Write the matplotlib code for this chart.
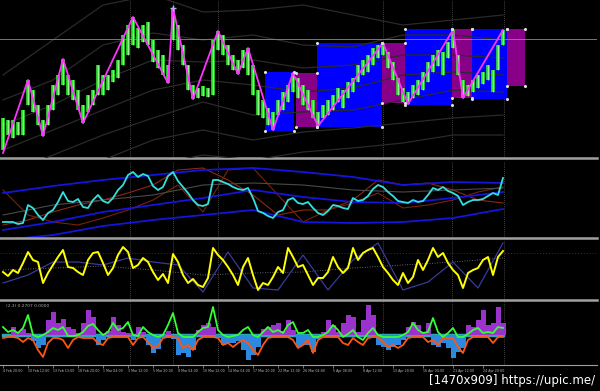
import matplotlib
matplotlib.use("Agg")
import matplotlib.pyplot as plt
from matplotlib.patches import Rectangle

# one sample per bar
bars = list(range(101))

# --- main window: price bars (high / low) ---
price_high = [42, 40, 40, 38, 50, 80, 70, 55, 40, 55,
              75, 85, 101, 85, 80, 70, 55, 65, 70, 95,
              85, 85, 90, 100, 125, 135, 143, 132, 135, 138,
              120, 110, 105, 95, 152, 135, 115, 95, 75, 72,
              74, 72, 120, 129, 125, 115, 105, 100, 110, 112,
              95, 70, 60, 52, 48, 60, 68, 75, 87, 82,
              75, 70, 60, 48, 55, 60, 65, 72, 70, 78,
              82, 95, 100, 105, 112, 115, 117, 108, 98, 82,
              72, 68, 75, 80, 88, 98, 105, 110, 108, 118,
              130, 105, 80, 75, 80, 85, 88, 95, 90, 115, 130]
price_low = [10, 25, 22, 25, 25, 55, 48, 35, 24, 35,
             50, 65, 75, 65, 60, 50, 37, 48, 55, 65,
             65, 70, 78, 82, 95, 105, 115, 112, 118, 115,
             98, 92, 85, 77, 120, 110, 95, 70, 61, 62,
             64, 63, 65, 110, 105, 95, 90, 86, 92, 85,
             65, 45, 42, 35, 30, 45, 50, 58, 68, 62,
             55, 50, 42, 34, 42, 45, 50, 58, 52, 62,
             68, 78, 85, 88, 95, 102, 105, 92, 80, 65,
             58, 56, 62, 65, 70, 78, 88, 94, 85, 102,
             112, 85, 62, 64, 68, 72, 76, 80, 68, 90, 115]

# zigzag pivots
zz_bar = [0, 5, 8, 12, 16, 26, 33, 34, 38, 43, 47, 49, 54, 58, 63, 76, 81, 90, 92, 100]
zz_price = [7, 80, 24, 101, 37, 143, 77, 152, 61, 129, 86, 112, 30, 87, 34, 117, 56, 130, 62, 130]

# swing boxes
box_left = [52.4, 58.6, 62.8, 75.8, 80.4, 89.8, 93.8, 100.8]
box_right = [58.2, 62.8, 75.8, 80.4, 89.8, 93.8, 100.8, 104.4]
box_low = [29, 33, 33, 57, 55, 62, 61, 74]
box_high = [88, 87, 117, 117, 131, 131, 131, 131]
box_up = [True, False, True, False, True, False, True, False]

# envelope curves (every 10 bars)
env_bar = [0, 10, 20, 30, 40, 50, 60, 70, 80, 90, 100]
env_1 = [85, 120, 155, 165, 148, 150, 155, 145, 135, 140, 145]
env_2 = [60, 80, 115, 127, 120, 125, 115, 113, 125, 125, 120]
env_3 = [35, 55, 80, 100, 98, 100, 92, 95, 105, 105, 102]
env_4 = [10, 30, 50, 70, 80, 75, 68, 72, 85, 88, 85]
env_5 = [-15, 5, 25, 42, 58, 45, 48, 50, 60, 70, 68]
env_6 = [-40, -20, 0, 20, 30, 20, 28, 32, 37, 42, 45]
env_7 = [-65, -45, -25, -5, 5, 0, 8, 12, 17, 25, 25]

sep_bar = [25.4, 34, 43, 76, 89.8, 100.2]
last_price = 121

# --- window 2: cyan oscillator with bands ---
cyan_osc = [18, 18, 18, 16, 17, 35, 32, 25, 20, 27,
            30, 38, 48, 39, 38, 41, 33, 32, 40, 45,
            39, 37, 42, 50, 55, 65, 68, 63, 66, 64,
            54, 50, 53, 64, 68, 59, 53, 47, 40, 35,
            34, 36, 60, 60, 58, 56, 53, 51, 50, 52,
            42, 29, 27, 24, 22, 28, 30, 40, 42, 37,
            36, 38, 32, 27, 25, 29, 35, 34, 32, 31,
            42, 39, 40, 44, 51, 55, 53, 48, 44, 39,
            38, 37, 40, 38, 39, 45, 52, 50, 53, 49,
            47, 44, 35, 38, 40, 40, 41, 44, 47, 45, 62]
band_upper = [47, 54, 60, 65, 70, 72, 68, 63, 55, 58, 57]
band_mid = [10, 18, 28, 35, 42, 50, 43, 38, 37, 42, 48]
band_lower = [0, 5, 14, 20, 25, 30, 18, 17, 18, 22, 31]
gray_osc = [25, 35, 40, 45, 55, 57, 55, 50, 48, 50, 52]
red_bar = [0, 5, 10, 15, 20, 25, 30, 35, 40, 45, 50, 55, 60, 65, 70, 75, 80, 85, 90, 95, 100]
red_fast = [15, 20, 28, 35, 40, 47, 55, 70, 72, 60, 45, 25, 30, 30, 40, 60, 55, 57, 50, 40, 37]
red_slow = [50, 25, 18, 15, 22, 30, 40, 55, 28, 70, 72, 45, 18, 30, 37, 47, 32, 35, 40, 48, 53]

# --- window 3: yellow oscillator ---
yellow_osc = [28, 24, 30, 27, 37, 48, 40, 38, 17, 27,
              35, 43, 50, 33, 32, 28, 25, 40, 47, 48,
              37, 25, 32, 45, 53, 48, 32, 35, 42, 38,
              28, 20, 26, 17, 46, 38, 25, 17, 21, 15,
              13, 22, 52, 45, 40, 33, 25, 15, 33, 42,
              25, 10, 17, 15, 23, 33, 27, 52, 43, 33,
              35, 25, 15, 22, 22, 28, 43, 33, 27, 32,
              52, 40, 47, 50, 52, 43, 33, 27, 20, 15,
              27, 17, 23, 40, 30, 40, 52, 43, 47, 37,
              30, 25, 12, 27, 30, 32, 40, 43, 25, 43, 49]
navy_osc = [17, 25, 38, 38, 35, 42, 38, 35, 8, 48, 12, 10, 45, 10, 40, 57, 10, 18, 38, 12, 57]
signal_osc = [30, 32, 34, 30, 25, 27, 28, 32, 35, 38, 42]
level_line = 47

# --- window 4: histogram ---
hist_vals = [0, 0, 8, 3, 6, 2, -6, -13, -10, 15,
             23, 12, 16, 8, 6, 2, 12, 25, 18, -10,
             -5, 4, 18, 10, 3, 2, -5, 8, 3, -10,
             -18, -14, -3, 4, -4, -20, -18, -22, -15, 5,
             10, 12, 8, -3, -10, -8, -8, -6, -15, -25,
             -20, -12, 6, 8, 10, 12, 4, 15, 5, -12,
             -10, -10, -17, -4, 3, 15, 10, 3, 12, 20,
             18, 3, 15, 30, 20, -10, -12, -15, -12, -10,
             -5, 8, 13, 10, 3, 12, -10, -12, -8, -13,
             -23, -17, -13, 10, 8, 15, 25, 10, 12, 28, 12]
green_line = [8, 3, 5, 2, 7, 20, 0, -2, 0, 3,
              7, 5, 8, -1, -1, 0, 3, 9, 11, 5,
              0, 3, 12, 5, 7, 13, 0, -1, 8, 3,
              0, -2, 0, 10, 22, 2, -2, -2, -2, 3,
              7, 8, 28, 5, 0, -2, -1, 0, 5, 8,
              0, -2, 3, 8, 3, 5, 2, 10, 13, 2,
              2, 5, -2, -2, 0, 3, 10, 5, -2, 1,
              5, -2, -5, 2, 7, 0, -2, -2, -2, -2,
              0, 3, 12, 5, 2, 3, 17, 3, -2, 2,
              7, -2, -2, 1, 5, 7, 2, 3, 2, 8, 7]
orange_line = [-3, -2, -2, -3, -7, -3, -5, -15, -22, -8,
               -3, -3, -5, -13, -5, -2, -3, -3, -3, -8,
               -10, -3, -2, -2, -2, -2, -10, -3, -2, -7,
               -13, -11, -3, -2, -2, -3, -13, -10, -15, -5,
               -2, -2, -2, -3, -10, -8, -12, -8, -5, -8,
               -15, -20, -10, -3, -2, -2, -2, -2, -5, -13,
               -10, -5, -18, -5, -2, -2, -2, -2, -8, -10,
               -3, -7, -10, -3, -2, -2, -7, -12, -10, -13,
               -10, -3, -2, -2, -2, -7, -5, -10, -3, -3,
               -3, -12, -18, -5, -2, -2, -2, -2, -8, -2, -2]

time_bar = [0, 5, 10, 15, 20, 25, 30, 35, 40, 45, 50, 55, 60, 66, 72, 78, 84, 90, 96]
time_label = ["4 Feb 20:00", "10 Feb 12:00", "13 Feb 13:00", "18 Feb 20:00",
              "1 Mar 04:00", "3 Mar 12:00", "5 Mar 20:00", "8 Mar 04:00",
              "10 Mar 12:00", "14 Mar 04:00", "17 Mar 20:00", "22 Mar 12:00",
              "26 Mar 04:00", "5 Apr 08:00", "8 Apr 12:00", "13 Apr 20:00",
              "16 Apr 04:00", "21 Apr 12:00", "24 Apr 20:00"]

W, H = 600, 391
fig = plt.figure(figsize=(W / 100, H / 100), dpi=100, facecolor="black")


def panel(top, bottom, ylim, spine_w=1.8):
    ax = fig.add_axes([0, 1 - bottom / H, 597 / W, (bottom - top) / H])
    ax.set_facecolor("black")
    ax.set_xlim(-0.6, 118.8)
    ax.set_ylim(*ylim)
    for s in ("top", "left", "right"):
        ax.spines[s].set_visible(False)
    ax.spines["bottom"].set_color("#a0a0a0")
    ax.spines["bottom"].set_linewidth(spine_w)
    ax.set_xticks([])
    ax.set_yticks([])
    for b in sep_bar:
        ax.axvline(b, color="#5c5c5c", lw=0.6, ls=(0, (1, 1.5)), zorder=1)
    return ax


# main window
ax1 = panel(0, 158, (2, 160))
for l, r, lo, hi, up in zip(box_left, box_right, box_low, box_high, box_up):
    ax1.add_patch(Rectangle((l, lo), r - l, hi - lo, color="#0000ff" if up else "#880088",
                            lw=0, zorder=2))
    ax1.scatter([l, r, l, r], [lo, lo, hi, hi], s=1.5, color="#dddddd", zorder=6)
for env in (env_1, env_2, env_3, env_4, env_5, env_6, env_7):
    ax1.plot(env_bar, env, color="#2a2a2a", lw=0.9, zorder=3)
ax1.axhline(last_price, color="#8a8a8a", lw=0.6, zorder=3)
ax1.vlines(bars, price_low, price_high, color="#2ee82e", lw=2.6, zorder=4)
ax1.vlines(bars, price_low, price_high, color="#b8ffb0", lw=0.5, zorder=4)
ax1.plot(zz_bar, zz_price, color="#ff33ff", lw=1.3, zorder=5)
top = zz_price.index(max(zz_price))
ax1.plot(zz_bar[top], zz_price[top], marker="+", ms=4, color="#aab0ff", zorder=6)

# window 2
ax2 = panel(161, 238, (2, 79))
ax2.plot(red_bar, red_fast, color="#8b2a10", lw=0.8)
ax2.plot(red_bar, red_slow, color="#7a2208", lw=0.8)
ax2.plot(env_bar, gray_osc, color="#4a4a4a", lw=0.8)
for band in (band_upper, band_mid, band_lower):
    ax2.plot(env_bar, band, color="#1414dd", lw=1.3)
ax2.plot(bars, cyan_osc, color="#33e0e0", lw=1.3)

# window 3
ax3 = panel(240, 300, (0, 60))
ax3.axhline(level_line, color="#2a2a70", lw=0.7, ls=(0, (1, 2)))
ax3.plot(env_bar, signal_osc, color="#8a8a8a", lw=0.6, ls=(0, (1, 2)))
ax3.plot(red_bar, navy_osc, color="#3a3a9a", lw=0.9)
ax3.plot(bars, yellow_osc, color="#ffff00", lw=1.4)

# window 4
ax4 = panel(302, 365, (-30, 33), spine_w=0.8)
ax4.plot([bars[0], bars[-1]], [0, 0], color="#2aa6b8", lw=2.5, zorder=2)
ax4.bar(bars, hist_vals, width=1.0,
        color=["#9933cc" if v > 0 else "#2b8ae0" for v in hist_vals], zorder=3)
ax4.plot(bars, orange_line, color="#ff5511", lw=1.3, zorder=4)
ax4.plot(bars, green_line, color="#33ff33", lw=1.3, zorder=5)
ax4.text(0.5, 31, "(2,3) 0.2707 0.0000", color="#aaaaaa", fontsize=3.2, va="top")
ax4.set_xticks(time_bar)
ax4.set_xticklabels(time_label, fontsize=2.3, color="#bbbbbb", ha="left")
ax4.tick_params(axis="x", length=2, width=0.5, color="#a0a0a0", pad=1)

fig.text(0.992, 0.028, "[1470x909] https://upic.me/", ha="right", va="center",
         color="white", fontsize=8.5)

fig.savefig("out.png", dpi=100, facecolor="black")
